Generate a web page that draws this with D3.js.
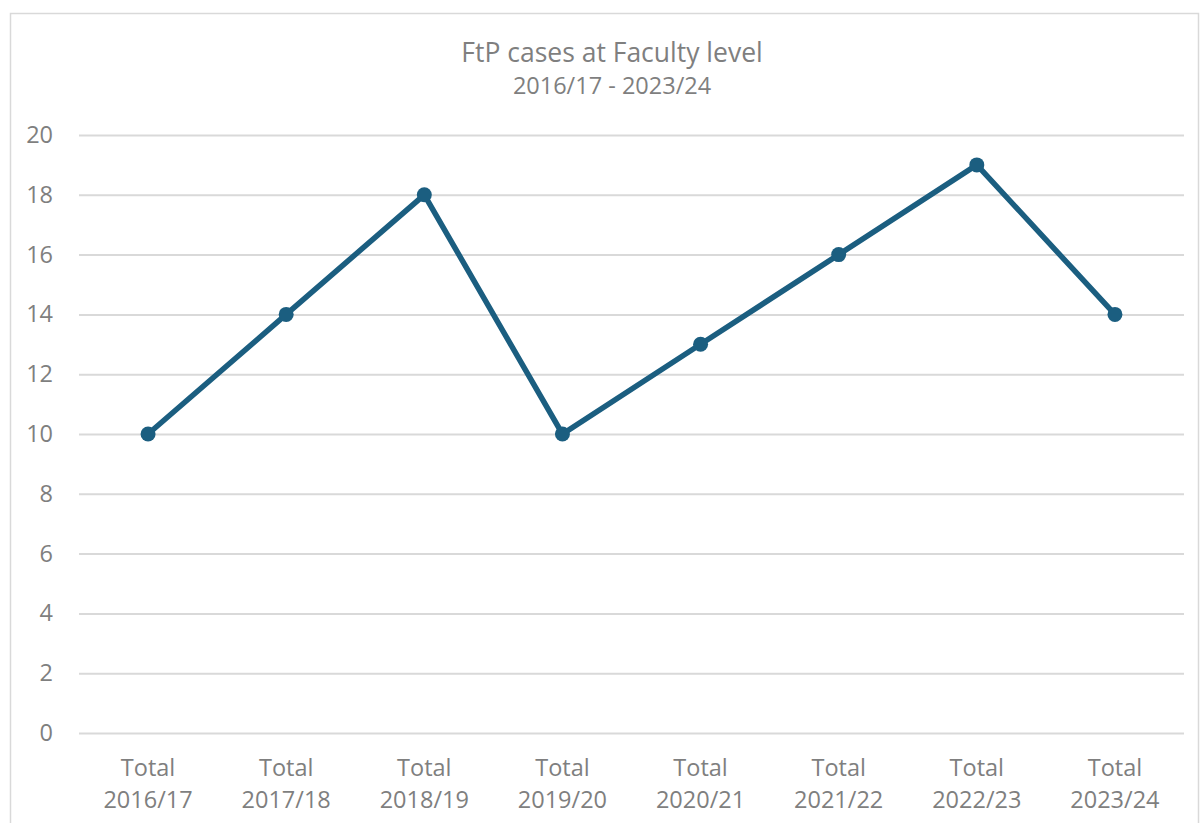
<!DOCTYPE html>
<html><head><meta charset="utf-8">
<script src="https://cdn.jsdelivr.net/npm/d3@7"></script>
<style>body{margin:0;background:#fff}svg{display:block;font-family:"Open Sans",sans-serif}</style>
</head><body><svg id="c" width="1200" height="823"></svg>
<script>
const categories = ["Total 2016/17","Total 2017/18","Total 2018/19","Total 2019/20","Total 2020/21","Total 2021/22","Total 2022/23","Total 2023/24"];
const values = [10,14,18,10,13,16,19,14];
const yTicks = [0,2,4,6,8,10,12,14,16,18,20];
const title = "FtP cases at Faculty level";
const subtitle = "2016/17 - 2023/24";

const svg = d3.select("#c");
svg.append("rect").attr("x",10.5).attr("y",13.5).attr("width",1188).attr("height",820)
  .attr("fill","#fff").attr("stroke","#d9d9d9").attr("stroke-width",1.5);

const x = d3.scaleBand().domain(categories).range([79,1184]);
const y = d3.scaleLinear().domain([0,20]).range([733,135]);
const grey = "#7f7f7f";
const fs = 23.5;

const ga = svg.append("g").attr("transform","translate(79,0)")
  .call(d3.axisLeft(y).tickValues(yTicks).tickSize(-1105).tickPadding(26));
ga.select(".domain").remove();
ga.selectAll(".tick line").attr("stroke","#d9d9d9").attr("stroke-width",2);
ga.selectAll(".tick text").attr("fill",grey).attr("font-size",fs).attr("font-family","Open Sans");

const gx = svg.append("g").attr("transform","translate(0,733)")
  .call(d3.axisBottom(x).tickSize(0).tickPadding(0));
gx.select(".domain").remove();
gx.selectAll(".tick text").attr("fill",grey).attr("font-size",fs).attr("font-family","Open Sans")
  .attr("dy",null).attr("y",0)
  .each(function(d){
    const t = d3.select(this); t.text(null);
    const parts = d.split(" ");
    t.append("tspan").attr("x",0).attr("y",43).text(parts[0]);
    t.append("tspan").attr("x",0).attr("y",75).text(parts[1]);
  });

const cx = d => x(d) + x.bandwidth()/2;
svg.append("path").datum(values.map((v,i)=>[categories[i],v]))
  .attr("fill","none").attr("stroke","#1b5e80").attr("stroke-width",5.5).attr("stroke-linejoin","miter")
  .attr("d", d3.line().x(d=>cx(d[0])).y(d=>y(d[1])));
svg.selectAll("circle.pt").data(values).join("circle").attr("class","pt")
  .attr("cx",(d,i)=>cx(categories[i])).attr("cy",d=>y(d)).attr("r",7.5).attr("fill","#1b5e80");

svg.append("text").attr("x",612).attr("y",62).attr("text-anchor","middle").attr("fill",grey)
  .attr("font-size",26.5).text(title);
svg.append("text").attr("x",612).attr("y",94).attr("text-anchor","middle").attr("fill",grey)
  .attr("font-size",fs).text(subtitle);
</script></body></html>
